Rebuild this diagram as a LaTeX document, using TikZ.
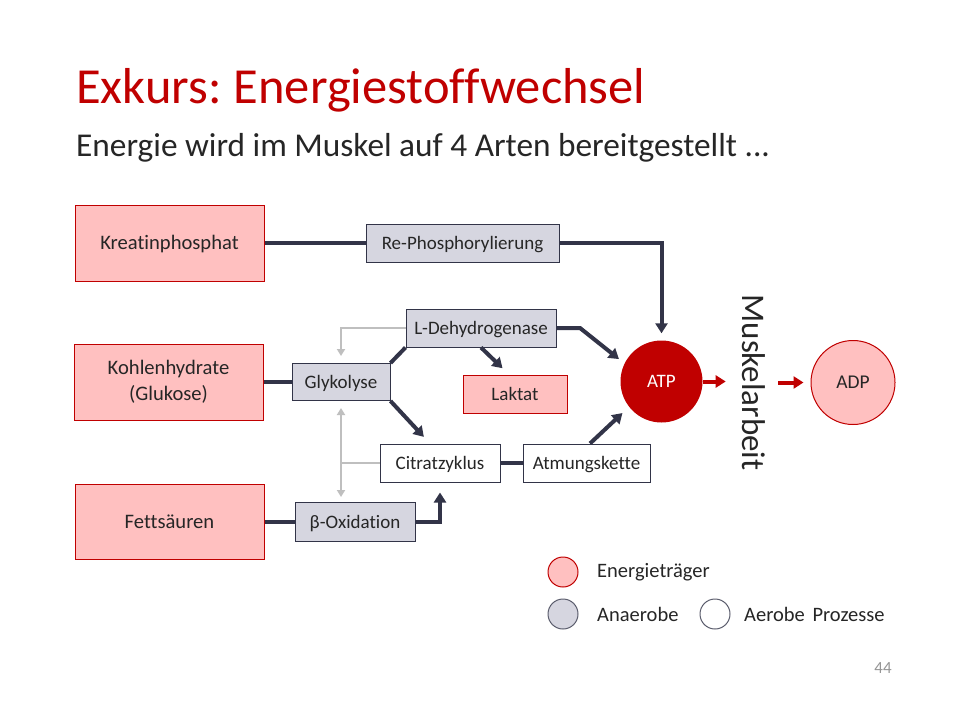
\documentclass[tikz,border=0pt]{standalone}
\usepackage{fontspec}
\setmainfont{Carlito}[Ligatures=NoCommon]
\usetikzlibrary{arrows.meta}

\definecolor{deepred}{RGB}{192,0,0}
\definecolor{carrierfill}{RGB}{255,192,192}
\definecolor{anaerobfill}{RGB}{214,214,224}
\definecolor{flowline}{RGB}{50,52,72}
\definecolor{bodytext}{RGB}{38,38,38}
\definecolor{helperline}{RGB}{191,191,191}
\definecolor{pagenum}{RGB}{150,150,150}

\newcommand\pxfont[2]{\fontsize{#1}{#2}\selectfont}

\tikzset{
  box/.style={rectangle, inner sep=0pt, text=bodytext, font=\pxfont{19}{24}, align=center,
    text height=12pt, text depth=0pt},
  source/.style={rectangle, inner sep=0pt, text=bodytext, align=center,
    draw=deepred, fill=carrierfill, line width=1pt, font=\pxfont{20.6}{26}},
  oneline/.style={text height=13pt, text depth=0pt},
  carrier/.style={box, draw=deepred, fill=carrierfill, line width=1pt},
  anaerob/.style={box, draw=flowline, fill=anaerobfill, line width=1pt},
  aerob/.style={box, draw=flowline, fill=white, line width=1pt},
  flow/.style={draw=flowline, line width=4pt},
  flowarrow/.style={flow, -{Triangle[length=10pt,width=12pt]}},
  helper/.style={draw=helperline, line width=1.8pt},
  helperarrow/.style={helper, -{Triangle[length=7pt,width=8pt]}},
  redarrow/.style={draw=deepred, line width=4pt, -{Triangle[length=10pt,width=12pt]}},
  legenddot/.style={circle, minimum size=30pt, inner sep=0pt, line width=1pt},
  legendtext/.style={anchor=west, inner sep=0pt, text=bodytext, font=\pxfont{20.5}{24}},
}

\begin{document}
\begin{tikzpicture}[x=1pt, y=-1pt]
  % page
  \fill[white] (0,0) rectangle (960,720);
  \useasboundingbox (0,0) rectangle (960,720);

  % headings
  \node[anchor=base west, inner sep=0pt, text=deepred, font=\pxfont{50.5}{55}]
    (title) at (76,103) {Exkurs:\hspace{-3pt} Energiestoffwechsel};
  \node[anchor=base west, inner sep=0pt, text=bodytext, font=\pxfont{33.3}{38}]
    (subtitle) at (76,156) {Energie wird im Muskel auf 4 Arten bereitgestellt ...};

  % energy sources
  \node[source, oneline, minimum width=189pt, minimum height=76pt] (kreatin) at (169.5,243) {Kreatinphosphat};
  \node[source, minimum width=189pt, minimum height=76pt] (kohlen) at (168.5,382) {Kohlenhydrate\\(Glukose)};
  \node[source, oneline, minimum width=189pt, minimum height=75pt] (fett) at (169.5,522) {Fettsäuren};

  % processes
  \node[anaerob, minimum width=193pt, minimum height=38pt] (rephos) at (462.5,243) {Re-Phosphorylierung};
  \node[anaerob, minimum width=150pt, minimum height=38pt] (ldh) at (481,328) {L-Dehydrogenase};
  \node[anaerob, minimum width=98pt, minimum height=37pt] (glyk) at (341,382) {Glykolyse};
  \node[carrier, minimum width=104pt, minimum height=38pt] (laktat) at (515,394) {Laktat};
  \node[aerob, minimum width=120pt, minimum height=38pt] (citrat) at (440,463) {Citratzyklus};
  \node[aerob, minimum width=127pt, minimum height=38pt] (atmung) at (586.5,463) {Atmungskette};
  \node[anaerob, minimum width=120pt, minimum height=39pt] (beta) at (355,522) {β-Oxidation};

  % ATP / ADP
  \node[circle, fill=deepred, minimum size=82pt, inner sep=0pt, text=white, font=\pxfont{19}{23},
    text height=12pt, text depth=0pt] (atp) at (661.5,381.5) {ATP};
  \node[circle, draw=deepred, fill=carrierfill, line width=1pt, minimum size=84pt, inner sep=0pt,
    text=bodytext, font=\pxfont{19.5}{23}, text height=12.3pt, text depth=0pt] (adp) at (853,382.5) {ADP};
  \node[rotate=-90, inner sep=0pt, text=bodytext, font=\pxfont{33}{37}] (work) at (754,382.5) {Muskelarbeit};

  % light helper connections
  \draw[helperarrow, shorten >=7pt] (ldh.west) -| (glyk.north);
  \coordinate (helperlow) at (glyk.south |- beta.north);
  \draw[helper, {Triangle[length=7pt,width=8pt]}-{Triangle[length=7pt,width=8pt]},
    shorten <=7pt, shorten >=5pt] (glyk.south) -- (helperlow);
  \draw[helper] (citrat.west) -- (citrat.west -| glyk.south);

  % main flows
  \draw[flow] (kreatin.east) -- (rephos.west);
  \draw[flowarrow, shorten >=7pt] (rephos.east) -| (atp.north);
  \draw[flow] (kohlen.east) -- (glyk.west);
  \draw[flow] (glyk.north east) -- (ldh.south west);
  \coordinate (ldhbend) at (580,328);
  \draw[flowarrow, shorten >=7pt] (ldh.east) -- (ldhbend) -- (atp.154);
  \draw[flowarrow, shorten >=9pt] (ldh.south) -- ([xshift=-6pt]laktat.north);
  \draw[flowarrow, shorten >=9pt] (glyk.south east) -- ([xshift=-10pt]citrat.north);
  \draw[flow] (citrat.east) -- (atmung.west);
  \draw[flowarrow, shorten >=9pt] ([xshift=3.5pt]atmung.north) -- (atp.218);
  \draw[flow] (fett.east) -- (beta.west);
  \draw[flowarrow, shorten >=10pt] (beta.east) -| (citrat.south);

  % muscle work
  \draw[redarrow] (atp.east) -- ++(23,0);
  \coordinate (workout) at (778,382.5);
  \draw[redarrow, shorten >=7pt] (workout) -- (adp.west);

  % legend
  \node[legenddot, draw=deepred, fill=carrierfill] (lgcarrier) at (563,572) {};
  \node[legendtext] (lgcarriertext) at (597,572) {Energieträger};
  \node[legenddot, draw=flowline!80, fill=anaerobfill] (lganaerob) at (563,614) {};
  \node[legendtext] (lganaerobtext) at (597,614) {Anaerobe};
  \node[legenddot, draw=flowline!80, fill=white] (lgaerob) at (715,614) {};
  \node[legendtext] (lgaerobtext) at (744,614) {Aerobe\hspace{3pt} Prozesse};

  % page number
  \node[inner sep=0pt, text=pagenum, font=\pxfont{17}{20}] (pagenumber) at (883,668) {44};
\end{tikzpicture}
\end{document}
